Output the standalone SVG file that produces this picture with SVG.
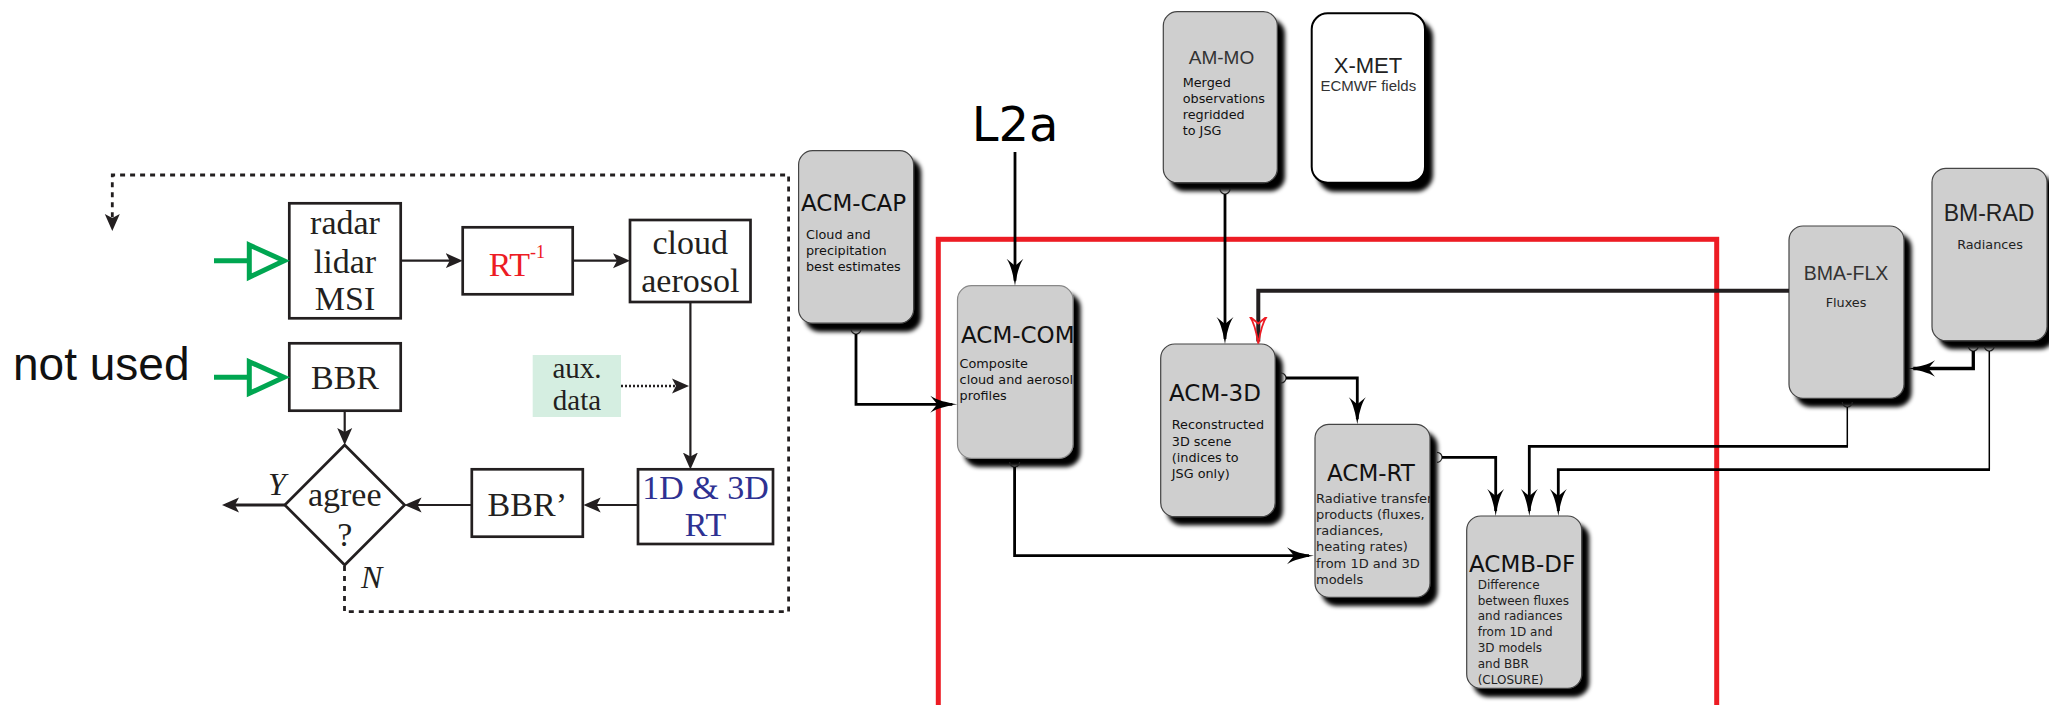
<svg xmlns="http://www.w3.org/2000/svg" width="2049" height="705" viewBox="0 0 2049 705">
<style>
.bx{fill:#fff;stroke:#231f20;stroke-width:2.7}
.sf{font-family:"Liberation Serif","Times New Roman",serif;font-size:34px;fill:#231f20}
.ln{fill:none;stroke:#231f20;stroke-width:2.2}
.dash{fill:none;stroke:#231f20;stroke-width:2.8;stroke-dasharray:5 5}
.gr{fill:none;stroke:#00a651;stroke-width:5}
.nd{fill:#cfcfcf;stroke:#444;stroke-width:1.2}
.tt{font-family:"DejaVu Sans",sans-serif;font-size:23px;fill:#111}
.st{font-family:"DejaVu Sans",sans-serif;font-size:12.8px;fill:#111}
.at{font-family:"Liberation Sans",Arial,sans-serif;fill:#333}
.cn{fill:none;stroke:#000;stroke-width:2.8}
.sk{fill:none;stroke:#222;stroke-width:1.2}
</style>
<defs>
<filter id="sh" x="-20%" y="-20%" width="150%" height="150%">
<feGaussianBlur in="SourceAlpha" stdDeviation="2.3"/>
<feOffset dx="7" dy="8" result="o"/>
<feMerge><feMergeNode in="o"/><feMergeNode in="SourceGraphic"/></feMerge>
</filter>
<marker id="A" markerUnits="userSpaceOnUse" viewBox="0 -10 30 20" markerWidth="30" markerHeight="20" refX="22" refY="0" orient="auto">
<path d="M27,0 C18,-1.5 6,-4 0,-8.5 L7,0 L0,8.5 C6,4 18,1.5 27,0 Z" fill="#000"/>
</marker>
<marker id="AR" markerUnits="userSpaceOnUse" viewBox="0 -10 30 20" markerWidth="30" markerHeight="20" refX="25" refY="0" orient="auto">
<path d="M27,0 C18,-1.5 6,-4 0,-8.5 L7,0 L0,8.5 C6,4 18,1.5 27,0 Z" fill="none" stroke="#ed1c24" stroke-width="1.8"/>
</marker>
<marker id="a" markerUnits="userSpaceOnUse" viewBox="0 -8 17 16" markerWidth="17" markerHeight="16" refX="13" refY="0" orient="auto">
<path d="M17,0 L0,-7.5 L4,0 L0,7.5 Z" fill="#231f20"/>
</marker>
<clipPath id="cCOM"><rect x="957.5" y="285.7" width="115.5" height="172.6"/></clipPath>
<clipPath id="cRT"><rect x="1315" y="424.3" width="115" height="173"/></clipPath>
</defs>
<rect width="2049" height="705" fill="#fff"/>

<!-- red boundary -->
<rect x="938.3" y="239.3" width="778.4" height="500" fill="none" stroke="#ed1c24" stroke-width="5"/>

<!-- left flowchart nodes -->
<g id="radar"><rect class="bx" x="289.3" y="203.3" width="111.4" height="115"/>
<text class="sf" text-anchor="middle"><tspan x="345" y="234.3">radar</tspan><tspan x="345" y="272.7">lidar</tspan><tspan x="345" y="310">MSI</tspan></text></g>
<g id="rtinv"><rect class="bx" x="462.7" y="227.3" width="110" height="67"/>
<text class="sf" x="488.7" y="275.7" style="fill:#ed1c24">RT<tspan font-size="18" dy="-18">-1</tspan></text></g>
<g id="cloud"><rect class="bx" x="630" y="220" width="120.5" height="82"/>
<text class="sf" text-anchor="middle"><tspan x="690.3" y="254">cloud</tspan><tspan x="690.3" y="291.7">aerosol</tspan></text></g>
<g id="bbr"><rect class="bx" x="289.3" y="343.3" width="111.4" height="67.4"/>
<text class="sf" x="345" y="389.3" text-anchor="middle">BBR</text></g>
<g id="aux"><rect x="532.7" y="355" width="88.3" height="62" fill="#d5eee1"/>
<text class="sf" text-anchor="middle" style="font-size:29px"><tspan x="577" y="378">aux.</tspan><tspan x="577" y="410">data</tspan></text></g>
<g id="bbrp"><rect class="bx" x="471.8" y="469.3" width="111" height="67.4"/>
<text class="sf" x="527.3" y="515.7" text-anchor="middle">BBR’</text></g>
<g id="rt13"><rect class="bx" x="638" y="469.3" width="135" height="74.7"/>
<text class="sf" text-anchor="middle" style="fill:#2e3192"><tspan x="705.5" y="499">1D &amp; 3D</tspan><tspan x="705.5" y="536">RT</tspan></text></g>
<g id="agree"><polygon class="bx" points="344.7,445 404.6,505 344.7,565 284.8,505"/>
<text class="sf" text-anchor="middle"><tspan x="344.7" y="506">agree</tspan><tspan x="344.7" y="546">?</tspan></text></g>
<g id="labels">
<text class="sf" x="268" y="495" font-style="italic" style="font-size:32px">Y</text>
<text class="sf" x="361" y="588" font-style="italic" style="font-size:32px">N</text>
<text x="13" y="380" font-family="Liberation Sans, Arial, sans-serif" font-size="46" fill="#111">not used</text>
</g>

<!-- left connectors -->
<g id="left-connectors">
<path class="gr" d="M214,260.7 H250"/>
<polygon class="gr" points="249.3,245 284,260.7 249.3,277.3"/>
<path class="gr" d="M214,377.3 H250"/>
<polygon class="gr" points="249.3,361.7 284,377.3 249.3,393.3"/>
<path class="ln" d="M400.7,260.7 H458.7" marker-end="url(#a)"/>
<path class="ln" d="M572.7,260.7 H626" marker-end="url(#a)"/>
<path class="ln" d="M690.4,302 V465.5" marker-end="url(#a)"/>
<path class="ln" d="M621,386 H685" stroke-dasharray="2 2" style="stroke-width:2.5" marker-end="url(#a)"/>
<path class="ln" d="M638,505 H587.7" marker-end="url(#a)"/>
<path class="ln" d="M471.8,505 H408.6" marker-end="url(#a)"/>
<path class="ln" d="M284.8,505 H226" style="stroke-width:2.8" marker-end="url(#a)"/>
<path class="ln" d="M344.7,410.7 V441" marker-end="url(#a)"/>
<path class="dash" d="M344.5,566 V611.7 H788.6 V175 H112.3 V227" marker-end="url(#a)"/>
</g>

<!-- right diagram nodes -->
<g id="acm-cap"><rect class="nd" filter="url(#sh)" x="798.6" y="150.7" width="115" height="172.5" rx="14"/>
<text class="tt" x="801" y="210.7">ACM-CAP</text>
<text class="st"><tspan x="806" y="239">Cloud and</tspan><tspan x="806" y="255">precipitation</tspan><tspan x="806" y="271">best estimates</tspan></text></g>

<g id="acm-com"><rect class="nd" filter="url(#sh)" x="957.5" y="285.7" width="115.5" height="172.6" rx="14" style="stroke:#888"/>
<g clip-path="url(#cCOM)"><text class="tt" x="961" y="342.7">ACM-COM</text>
<text class="st"><tspan x="959.6" y="367.7">Composite</tspan><tspan x="959.6" y="383.7">cloud and aerosol</tspan><tspan x="959.6" y="399.7">profiles</tspan></text></g></g>

<g id="am-mo"><rect class="nd" filter="url(#sh)" x="1163.3" y="11.7" width="114" height="171" rx="14"/>
<text class="at" x="1221.5" y="64" font-size="19" text-anchor="middle">AM-MO</text>
<text class="st"><tspan x="1182.7" y="87">Merged</tspan><tspan x="1182.7" y="103">observations</tspan><tspan x="1182.7" y="119">regridded</tspan><tspan x="1182.7" y="135">to JSG</tspan></text></g>

<g id="x-met"><rect filter="url(#sh)" x="1311.7" y="13.3" width="113.3" height="169.4" rx="16" fill="#fff" stroke="#000" stroke-width="2"/>
<text class="at" x="1368" y="73.3" font-size="22" text-anchor="middle" style="fill:#222">X-MET</text>
<text class="at" x="1368.3" y="90.7" font-size="15" text-anchor="middle">ECMWF fields</text></g>

<g id="acm-3d"><rect class="nd" filter="url(#sh)" x="1160.7" y="344" width="114.5" height="172.7" rx="14"/>
<text class="tt" x="1169" y="400.7">ACM-3D</text>
<text class="st"><tspan x="1171.8" y="429.3">Reconstructed</tspan><tspan x="1171.8" y="445.5">3D scene</tspan><tspan x="1171.8" y="461.5">(indices to</tspan><tspan x="1171.8" y="477.5">JSG only)</tspan></text></g>

<g id="acm-rt"><rect class="nd" filter="url(#sh)" x="1315" y="424.3" width="115" height="173" rx="14"/>
<g clip-path="url(#cRT)"><text class="tt" x="1327" y="481">ACM-RT</text>
<text class="st" style="font-size:13px;fill:#222"><tspan x="1316" y="503">Radiative transfer</tspan><tspan x="1316" y="519">products (fluxes,</tspan><tspan x="1316" y="535">radiances,</tspan><tspan x="1316" y="551">heating rates)</tspan><tspan x="1316" y="567.5">from 1D and 3D</tspan><tspan x="1316" y="583.5">models</tspan></text></g></g>

<g id="acmb-df"><rect class="nd" filter="url(#sh)" x="1466.7" y="516" width="115" height="172.3" rx="14"/>
<text class="tt" x="1469" y="571.7">ACMB-DF</text>
<text class="st" style="font-size:12px;fill:#222"><tspan x="1477.7" y="589">Difference</tspan><tspan x="1477.7" y="605">between fluxes</tspan><tspan x="1477.7" y="620">and radiances</tspan><tspan x="1477.7" y="636">from 1D and</tspan><tspan x="1477.7" y="652">3D models</tspan><tspan x="1477.7" y="668">and BBR</tspan><tspan x="1477.7" y="684">(CLOSURE)</tspan></text></g>

<g id="bma-flx"><rect class="nd" filter="url(#sh)" x="1789" y="226" width="115" height="172.3" rx="14"/>
<text class="at" x="1846" y="280" font-size="19.5" text-anchor="middle">BMA-FLX</text>
<text class="st" x="1846" y="307" text-anchor="middle" style="fill:#222">Fluxes</text></g>

<g id="bm-rad"><rect class="nd" filter="url(#sh)" x="1932" y="168.3" width="115" height="172.4" rx="14"/>
<text class="at" x="1989" y="221" font-size="23" text-anchor="middle" style="fill:#222">BM-RAD</text>
<text class="st" x="1990" y="249" text-anchor="middle" style="fill:#222">Radiances</text></g>

<g id="l2a"><text x="971.7" y="141" font-family="DejaVu Sans, sans-serif" font-size="48" fill="#000">L2a</text></g>

<!-- right connectors -->
<g id="connectors">
<path class="cn" d="M1015,152 V280.7" marker-end="url(#A)"/>
<path class="sk" d="M851,329 a5,5 0 0 0 10,0"/>
<path class="cn" d="M856,334 V404.3 H952.3" marker-end="url(#A)"/>
<path class="sk" d="M1220,189 a5,5 0 0 0 10,0"/>
<path class="cn" d="M1225,194 V339" marker-end="url(#A)"/>
<path d="M1789,290.7 H1258.3 V341.5" fill="none" stroke="#231f20" stroke-width="4" marker-end="url(#AR)"/>
<path class="sk" d="M1281,373 a5,5 0 0 1 0,10"/>
<path class="cn" d="M1286,378 H1357.3 V419.3" marker-end="url(#A)"/>
<path class="sk" d="M1009.6,462 a5,5 0 0 0 10,0"/>
<path class="cn" d="M1014.6,467 V555.7 H1309" marker-end="url(#A)"/>
<path class="sk" d="M1437,452.3 a5,5 0 0 1 0,10"/>
<path class="cn" d="M1442,457.3 H1495.7 V511" marker-end="url(#A)"/>
<path class="sk" d="M1968.3,346 a5,5 0 0 0 10,0"/>
<path class="cn" d="M1973.3,351 V368.5 H1913.3" style="stroke-width:3.3" marker-end="url(#A)"/>
<path class="sk" d="M1984.3,346 a5,5 0 0 0 10,0"/>
<path d="M1989.3,351 V469.7" fill="none" stroke="#000" stroke-width="1.5"/>
<path class="cn" d="M1990,469.7 H1558.3 V511" marker-end="url(#A)"/>
<path class="sk" d="M1842.3,402 a5,5 0 0 0 10,0"/>
<path d="M1847.3,407 V446.3" fill="none" stroke="#000" stroke-width="1.5"/>
<path class="cn" d="M1848,446.3 H1529.3 V511" marker-end="url(#A)"/>
</g>
</svg>
